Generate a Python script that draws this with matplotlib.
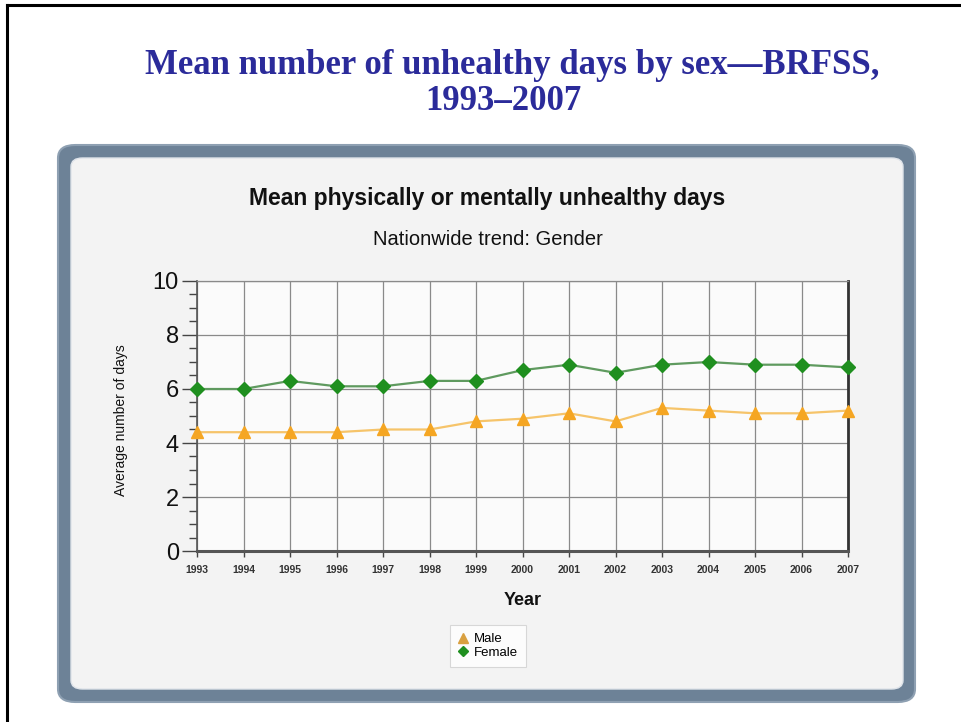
import matplotlib
matplotlib.use("Agg")
import matplotlib.pyplot as plt
from matplotlib.patches import FancyBboxPatch
from matplotlib.lines import Line2D
import numpy as np

years = [1993, 1994, 1995, 1996, 1997, 1998, 1999, 2000, 2001, 2002, 2003, 2004, 2005, 2006, 2007]
male = [4.4, 4.4, 4.4, 4.4, 4.5, 4.5, 4.8, 4.9, 5.1, 4.8, 5.3, 5.2, 5.1, 5.1, 5.2]
female = [6.0, 6.0, 6.3, 6.1, 6.1, 6.3, 6.3, 6.7, 6.9, 6.6, 6.9, 7.0, 6.9, 6.9, 6.8]
yticks = [0, 2, 4, 6, 8, 10]

W, H = 961, 722
fig = plt.figure(figsize=(W / 100, H / 100), dpi=100)
fig.patch.set_facecolor("white")

def fx(px):
    return px / W

def fy(py):
    return 1 - py / H

# slide border (top and left)
fig.add_artist(Line2D([fx(7), fx(7)], [0, fy(5)], color="black", lw=2.2, transform=fig.transFigure))
fig.add_artist(Line2D([fx(7), 1], [fy(5), fy(5)], color="black", lw=2.2, transform=fig.transFigure))

# slide title
fig.text(fx(512), fy(66), "Mean number of unhealthy days by sex\u2014BRFSS,", ha="center", va="center",
         family="Liberation Serif", weight="bold", fontsize=25, color="#2b2b9a")
fig.text(fx(503), fy(102), "1993\u20132007", ha="center", va="center",
         family="Liberation Serif", weight="bold", fontsize=25, color="#2b2b9a")

# panel frame
outer = FancyBboxPatch((fx(58), fy(702)), fx(915) - fx(58), fy(145) - fy(702),
                       boxstyle="round,pad=0,rounding_size=0.018", transform=fig.transFigure,
                       facecolor="#6d8297", edgecolor="#8ea0b2", lw=1.5, zorder=0)
fig.add_artist(outer)
inner = FancyBboxPatch((fx(71), fy(689)), fx(903) - fx(71), fy(158) - fy(689),
                       boxstyle="round,pad=0,rounding_size=0.012", transform=fig.transFigure,
                       facecolor="#f3f3f3", edgecolor="#dfe4ea", lw=1.0, zorder=0)
fig.add_artist(inner)

fig.text(fx(487), fy(198), "Mean physically or mentally unhealthy days", ha="center", va="center",
         family="Liberation Sans", weight="bold", fontsize=16.5, color="#111111")
fig.text(fx(488), fy(240), "Nationwide trend: Gender", ha="center", va="center",
         family="Liberation Sans", fontsize=14.5, color="#111111")

ax = fig.add_axes([fx(197), fy(551), fx(848) - fx(197), fy(281) - fy(551)])
ax.set_facecolor("#fbfbfb")
ax.set_xlim(years[0], years[-1])
ax.set_ylim(0, 10)

ax.grid(True, color="#8a8a8a", lw=0.9)
ax.set_axisbelow(True)

ax.plot(years, female, color="#5f9a5f", lw=1.6, marker="D", markersize=7.5,
        markerfacecolor="#1f8f1f", markeredgecolor="#1f8f1f", label="Female", zorder=3, clip_on=False)
ax.plot(years, male, color="#f6c46a", lw=1.6, marker="^", markersize=8,
        markerfacecolor="#f5a623", markeredgecolor="#f5a623", label="Male", zorder=3, clip_on=False)

ax.set_yticks(yticks)
ax.set_yticks(np.arange(0, 10.01, 0.5), minor=True)
ax.set_xticks(years)
ax.set_xticklabels([str(y) for y in years], family="Liberation Sans", fontsize=7.5, weight="bold", color="#333333")
ax.set_yticklabels([str(v) for v in yticks], family="Liberation Sans", fontsize=17, color="#111111")
ax.tick_params(axis="y", which="major", length=11, width=1, color="#444444", direction="out", pad=2)
ax.tick_params(axis="y", which="minor", length=6, width=1, color="#444444", direction="out")
ax.tick_params(axis="x", which="major", length=4, width=1, color="#444444", direction="out", pad=6)

ax.spines["top"].set_color("#8a8a8a")
ax.spines["top"].set_linewidth(0.9)
ax.spines["left"].set_color("#555555")
ax.spines["left"].set_linewidth(1.2)
ax.spines["right"].set_color("#333333")
ax.spines["right"].set_linewidth(2.0)
ax.spines["bottom"].set_color("#555555")
ax.spines["bottom"].set_linewidth(2.2)

ax.set_xlabel("Year", family="Liberation Sans", weight="bold", fontsize=13, color="#111111", labelpad=12)
fig.text(fx(121), fy(420), "Average number of days", rotation=90, ha="center", va="center",
         family="Liberation Sans", fontsize=10, color="#111111")

handles = [Line2D([], [], ls="none", marker="^", markersize=7, color="#d9a040", label="Male"),
           Line2D([], [], ls="none", marker="D", markersize=5.5, color="#1f8f1f", label="Female")]
leg = fig.legend(handles=handles, loc="center", bbox_to_anchor=(fx(488), fy(646)),
                 prop={"family": "Liberation Sans", "size": 9.5}, frameon=True, fancybox=False,
                 handlelength=0.8, handletextpad=0.4, borderpad=0.6, labelspacing=0.1)
leg.get_frame().set_edgecolor("#d0d0d0")
leg.get_frame().set_facecolor("white")
leg.get_frame().set_linewidth(0.8)

fig.savefig("out.png", dpi=100)
